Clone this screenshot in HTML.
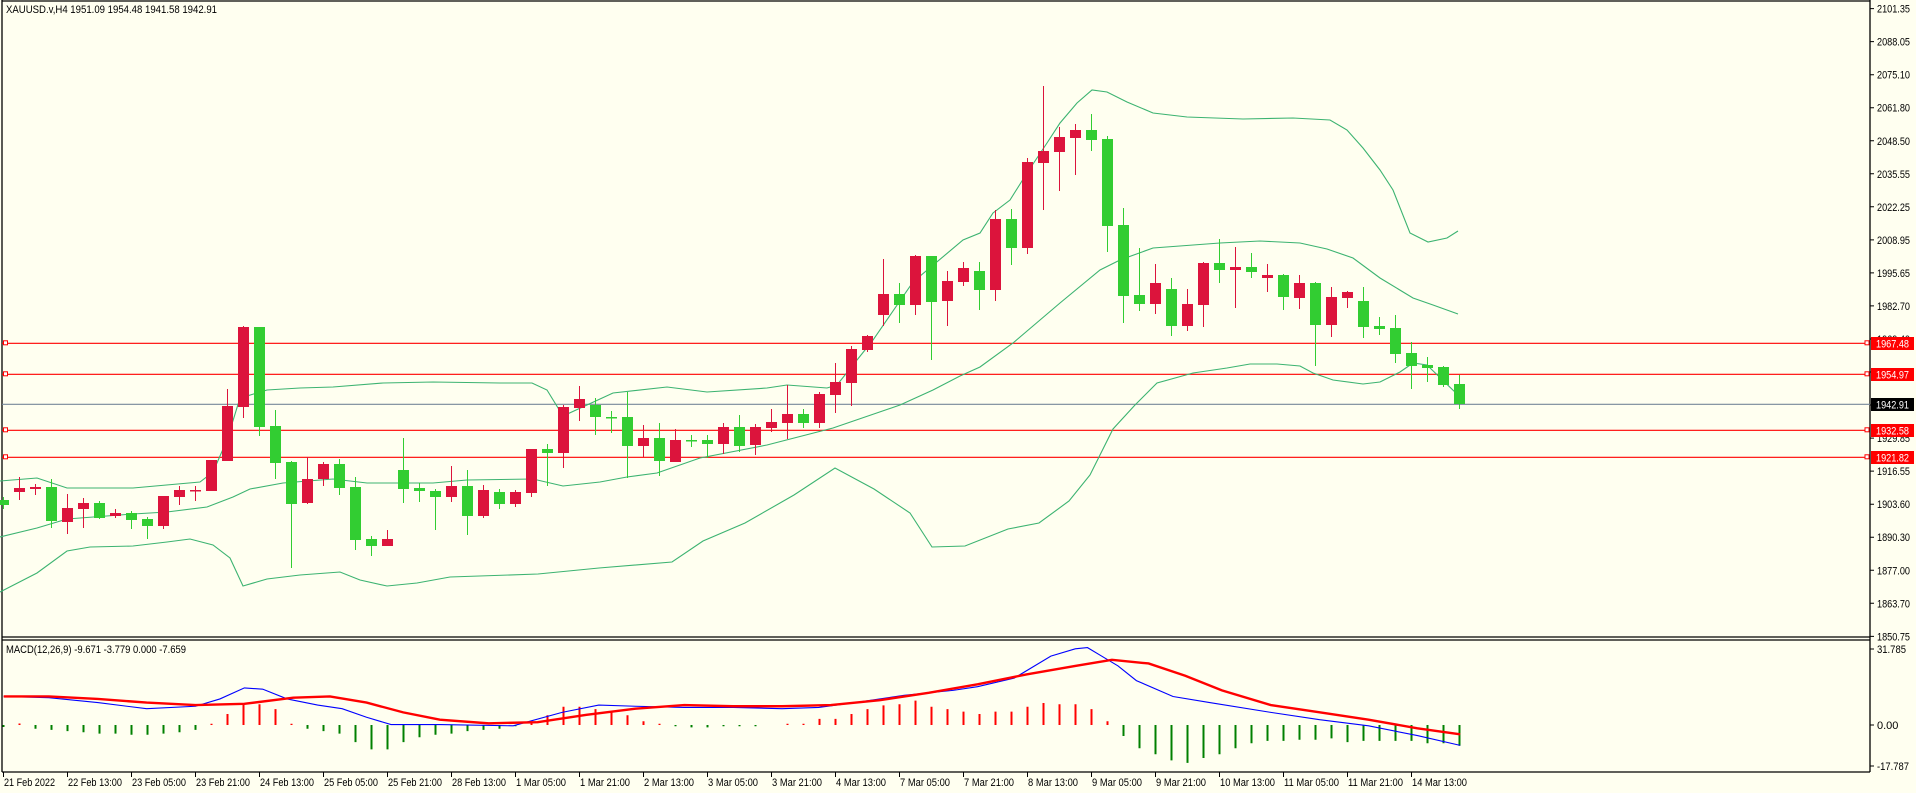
<!DOCTYPE html>
<html><head><meta charset="utf-8"><style>
html,body{margin:0;padding:0;background:#FFFFF0;}
svg{display:block;font-family:"Liberation Sans",sans-serif;font-size:11px;}
</style></head><body>
<svg width="1916" height="793" viewBox="0 0 1916 793" xmlns="http://www.w3.org/2000/svg">
<rect width="1916" height="793" fill="#FFFFF0"/>
<g stroke="#000" stroke-width="1.3" fill="none">
<line x1="2" y1="1" x2="1870" y2="1"/>
<line x1="2" y1="0" x2="2" y2="772"/>
<line x1="1870" y1="0" x2="1870" y2="772"/>
<line x1="2" y1="637" x2="1870" y2="637"/>
<line x1="2" y1="640" x2="1870" y2="640"/>
<line x1="2" y1="772" x2="1870" y2="772"/>
</g>
<g stroke-width="1.2" fill="none">
<line x1="2" y1="404.3" x2="1870" y2="404.3" stroke="#778899"/>
<line x1="2" y1="343.3" x2="1866" y2="343.3" stroke="#FF0000"/>
<line x1="2" y1="374.3" x2="1866" y2="374.3" stroke="#FF0000"/>
<line x1="2" y1="430.3" x2="1866" y2="430.3" stroke="#FF0000"/>
<line x1="2" y1="457.3" x2="1866" y2="457.3" stroke="#FF0000"/>
</g>
<g stroke="#FF0000" fill="#fff" stroke-width="1">
<rect x="3.5" y="340.8" width="4" height="4"/><rect x="3.5" y="371.8" width="4" height="4"/><rect x="3.5" y="427.8" width="4" height="4"/><rect x="3.5" y="454.8" width="4" height="4"/>
<rect x="1865" y="340.8" width="4" height="4"/><rect x="1865" y="371.8" width="4" height="4"/><rect x="1865" y="427.8" width="4" height="4"/><rect x="1865" y="454.8" width="4" height="4"/>
</g>
<g stroke="#3CB371" stroke-width="1.1" fill="none">
<polyline points="0,481 37,478 67,488 133,488 200,482 213,472 227,440 240,398 247,396 267,390 300,388 333,387 383,383 433,382 500,383 532,383 547,390 563,416 613,393 667,387 707,392 767,388 787,385 827,388 837,385 873,340 913,282 963,240 980,233 993,213 1010,200 1027,173 1047,143 1060,123 1077,103 1092,90 1107,92 1127,102 1153,113 1187,117 1243,119 1293,118 1330,120 1347,130 1363,148 1380,170 1393,190 1410,233 1428,242 1447,238 1458,231"/>
<polyline points="0,537 37,528 67,519 133,514 167,512 207,507 233,497 250,489 283,483 333,479 367,483 433,483 467,480 533,479 563,486 600,482 627,477 657,473 700,458 767,445 833,428 900,405 933,390 960,376 980,367 1013,343 1060,303 1100,270 1120,260 1153,248 1220,243 1260,241 1300,243 1327,249 1353,258 1380,278 1413,298 1433,305 1458,314"/>
<polyline points="0,592 37,573 67,551 90,547 133,546 167,542 190,539 213,545 230,558 243,586 267,579 300,575 340,572 360,580 387,586 417,583 450,577 538,574 599,568 672,562 703,541 745,523 794,495 835,468 874,489 910,513 932,547 965,546 1008,529 1039,523 1069,501 1090,475 1113,429 1135,405 1157,383 1193,373 1227,368 1250,364 1277,364 1300,366 1313,373 1333,380 1363,384 1380,382 1400,372 1413,363 1427,365 1458,395"/>
</g>
<g fill="#DC143C">
<rect x="19" y="477" width="1" height="23"/><rect x="14" y="488" width="11" height="4"/>
<rect x="35" y="484" width="1" height="11"/><rect x="30" y="487" width="11" height="2"/>
<rect x="67" y="494" width="1" height="40"/><rect x="62" y="508" width="11" height="14"/>
<rect x="83" y="498" width="1" height="30"/><rect x="78" y="503" width="11" height="6"/>
<rect x="115" y="509" width="1" height="9"/><rect x="110" y="513" width="11" height="3"/>
<rect x="163" y="496" width="1" height="33"/><rect x="158" y="496" width="11" height="30"/>
<rect x="179" y="486" width="1" height="19"/><rect x="174" y="490" width="11" height="7"/>
<rect x="195" y="486" width="1" height="15"/><rect x="190" y="490" width="11" height="1.5"/>
<rect x="211" y="460" width="1" height="31"/><rect x="206" y="460" width="11" height="31"/>
<rect x="227" y="389" width="1" height="72"/><rect x="222" y="406" width="11" height="55"/>
<rect x="243" y="326" width="1" height="92"/><rect x="238" y="327" width="11" height="80"/>
<rect x="307" y="457" width="1" height="47"/><rect x="302" y="479" width="11" height="24"/>
<rect x="323" y="462" width="1" height="24"/><rect x="318" y="464" width="11" height="15"/>
<rect x="387" y="530" width="1" height="16"/><rect x="382" y="539" width="11" height="7"/>
<rect x="451" y="466" width="1" height="36"/><rect x="446" y="486" width="11" height="11"/>
<rect x="483" y="485" width="1" height="33"/><rect x="478" y="490" width="11" height="26"/>
<rect x="515" y="490" width="1" height="17"/><rect x="510" y="492" width="11" height="12"/>
<rect x="531" y="449" width="1" height="48"/><rect x="526" y="449" width="11" height="44"/>
<rect x="563" y="405" width="1" height="63"/><rect x="558" y="407" width="11" height="46"/>
<rect x="579" y="386" width="1" height="35"/><rect x="574" y="399" width="11" height="9"/>
<rect x="643" y="425" width="1" height="32"/><rect x="638" y="438" width="11" height="8"/>
<rect x="675" y="429" width="1" height="33"/><rect x="670" y="440" width="11" height="22"/>
<rect x="723" y="423" width="1" height="31"/><rect x="718" y="427" width="11" height="17"/>
<rect x="755" y="424" width="1" height="31"/><rect x="750" y="427" width="11" height="18"/>
<rect x="771" y="409" width="1" height="23"/><rect x="766" y="422" width="11" height="6"/>
<rect x="787" y="385" width="1" height="54"/><rect x="782" y="414" width="11" height="9"/>
<rect x="819" y="392" width="1" height="36"/><rect x="814" y="394" width="11" height="29"/>
<rect x="835" y="363" width="1" height="50"/><rect x="830" y="382" width="11" height="13"/>
<rect x="851" y="346" width="1" height="60"/><rect x="846" y="349" width="11" height="34"/>
<rect x="867" y="335" width="1" height="17"/><rect x="862" y="336" width="11" height="14"/>
<rect x="883" y="259" width="1" height="67"/><rect x="878" y="294" width="11" height="21"/>
<rect x="915" y="255" width="1" height="60"/><rect x="910" y="256" width="11" height="49"/>
<rect x="947" y="271" width="1" height="55"/><rect x="942" y="281" width="11" height="20"/>
<rect x="963" y="262" width="1" height="24"/><rect x="958" y="268" width="11" height="14"/>
<rect x="995" y="210" width="1" height="91"/><rect x="990" y="219" width="11" height="71"/>
<rect x="1027" y="158" width="1" height="96"/><rect x="1022" y="162" width="11" height="86"/>
<rect x="1043" y="86" width="1" height="124"/><rect x="1038" y="151" width="11" height="12"/>
<rect x="1059" y="127" width="1" height="64"/><rect x="1054" y="137" width="11" height="15"/>
<rect x="1075" y="124" width="1" height="51"/><rect x="1070" y="130" width="11" height="8"/>
<rect x="1155" y="264" width="1" height="50"/><rect x="1150" y="283" width="11" height="21"/>
<rect x="1187" y="289" width="1" height="42"/><rect x="1182" y="304" width="11" height="22"/>
<rect x="1203" y="262" width="1" height="65"/><rect x="1198" y="263" width="11" height="42"/>
<rect x="1235" y="247" width="1" height="61"/><rect x="1230" y="267" width="11" height="3"/>
<rect x="1267" y="264" width="1" height="28"/><rect x="1262" y="275" width="11" height="3"/>
<rect x="1299" y="275" width="1" height="34"/><rect x="1294" y="283" width="11" height="15"/>
<rect x="1331" y="287" width="1" height="50"/><rect x="1326" y="297" width="11" height="28"/>
<rect x="1347" y="291" width="1" height="17"/><rect x="1342" y="292" width="11" height="6"/>
</g>
<g fill="#32CD32">
<rect x="3" y="497" width="1" height="12"/><rect x="0" y="500" width="9" height="5"/>
<rect x="51" y="479" width="1" height="49"/><rect x="46" y="487" width="11" height="34"/>
<rect x="99" y="501" width="1" height="18"/><rect x="94" y="503" width="11" height="15"/>
<rect x="131" y="511" width="1" height="18"/><rect x="126" y="513" width="11" height="7"/>
<rect x="147" y="517" width="1" height="22"/><rect x="142" y="519" width="11" height="7"/>
<rect x="259" y="327" width="1" height="109"/><rect x="254" y="327" width="11" height="100"/>
<rect x="275" y="410" width="1" height="69"/><rect x="270" y="426" width="11" height="37"/>
<rect x="291" y="461" width="1" height="107"/><rect x="286" y="462" width="11" height="42"/>
<rect x="339" y="459" width="1" height="36"/><rect x="334" y="464" width="11" height="24"/>
<rect x="355" y="477" width="1" height="73"/><rect x="350" y="487" width="11" height="53"/>
<rect x="371" y="536" width="1" height="20"/><rect x="366" y="539" width="11" height="7"/>
<rect x="403" y="438" width="1" height="65"/><rect x="398" y="470" width="11" height="19"/>
<rect x="419" y="483" width="1" height="19"/><rect x="414" y="488" width="11" height="3"/>
<rect x="435" y="489" width="1" height="41"/><rect x="430" y="491" width="11" height="6"/>
<rect x="467" y="470" width="1" height="65"/><rect x="462" y="486" width="11" height="30"/>
<rect x="499" y="489" width="1" height="20"/><rect x="494" y="492" width="11" height="12"/>
<rect x="547" y="444" width="1" height="42"/><rect x="542" y="449" width="11" height="4"/>
<rect x="595" y="398" width="1" height="37"/><rect x="590" y="405" width="11" height="12"/>
<rect x="611" y="411" width="1" height="22"/><rect x="606" y="417" width="11" height="1.5"/>
<rect x="627" y="392" width="1" height="86"/><rect x="622" y="417" width="11" height="29"/>
<rect x="659" y="423" width="1" height="53"/><rect x="654" y="438" width="11" height="23"/>
<rect x="691" y="435" width="1" height="12"/><rect x="686" y="440" width="11" height="1.5"/>
<rect x="707" y="435" width="1" height="23"/><rect x="702" y="440" width="11" height="4"/>
<rect x="739" y="415" width="1" height="37"/><rect x="734" y="427" width="11" height="19"/>
<rect x="803" y="409" width="1" height="19"/><rect x="798" y="414" width="11" height="9"/>
<rect x="899" y="283" width="1" height="40"/><rect x="894" y="294" width="11" height="11"/>
<rect x="931" y="256" width="1" height="104"/><rect x="926" y="256" width="11" height="46"/>
<rect x="979" y="262" width="1" height="48"/><rect x="974" y="271" width="11" height="19"/>
<rect x="1011" y="209" width="1" height="56"/><rect x="1006" y="219" width="11" height="29"/>
<rect x="1091" y="114" width="1" height="37"/><rect x="1086" y="130" width="11" height="10"/>
<rect x="1107" y="136" width="1" height="116"/><rect x="1102" y="139" width="11" height="87"/>
<rect x="1123" y="208" width="1" height="115"/><rect x="1118" y="225" width="11" height="71"/>
<rect x="1139" y="248" width="1" height="63"/><rect x="1134" y="295" width="11" height="9"/>
<rect x="1171" y="278" width="1" height="58"/><rect x="1166" y="289" width="11" height="37"/>
<rect x="1219" y="239" width="1" height="44"/><rect x="1214" y="263" width="11" height="7"/>
<rect x="1251" y="253" width="1" height="25"/><rect x="1246" y="267" width="11" height="5"/>
<rect x="1283" y="274" width="1" height="36"/><rect x="1278" y="275" width="11" height="22"/>
<rect x="1315" y="282" width="1" height="84"/><rect x="1310" y="283" width="11" height="42"/>
<rect x="1363" y="287" width="1" height="51"/><rect x="1358" y="301" width="11" height="26"/>
<rect x="1379" y="317" width="1" height="18"/><rect x="1374" y="326" width="11" height="3"/>
<rect x="1395" y="315" width="1" height="48"/><rect x="1390" y="328" width="11" height="26"/>
<rect x="1411" y="342" width="1" height="47"/><rect x="1406" y="353" width="11" height="13"/>
<rect x="1427" y="357" width="1" height="25"/><rect x="1422" y="365" width="11" height="3"/>
<rect x="1443" y="366" width="1" height="21"/><rect x="1438" y="367" width="11" height="18"/>
<rect x="1459" y="375" width="1" height="34"/><rect x="1454" y="384" width="11" height="20"/>
</g>
<path stroke="#008000" stroke-width="2" fill="none" d="M3.5 725V727M35.5 725V728.7M51.5 725V729.9M67.5 725V731.1M83.5 725V732.3M99.5 725V733.6M115.5 725V733.6M131.5 725V734.8M147.5 725V734.8M163.5 725V733.6M179.5 725V732.3M195.5 725V729.9M307.5 725V728.7M323.5 725V731.1M339.5 725V733.6M355.5 725V742.1M371.5 725V749.4M387.5 725V749.4M403.5 725V742.1M419.5 725V737.2M435.5 725V734.8M451.5 725V733.6M467.5 725V731.1M483.5 725V729.9M499.5 725V728.7M515.5 725V726.2M675.5 725V726.2M691.5 725V727.4M707.5 725V727.4M723.5 725V726.2M739.5 725V726.2M755.5 725V726.2M1123.5 725V736M1139.5 725V748.2M1155.5 725V754.3M1171.5 725V760.4M1187.5 725V762.9M1203.5 725V758M1219.5 725V754.3M1235.5 725V748.2M1251.5 725V743.3M1267.5 725V740.9M1283.5 725V740.9M1299.5 725V739.7M1315.5 725V739.7M1331.5 725V738.4M1347.5 725V742.1M1363.5 725V740.9M1379.5 725V740.9M1395.5 725V740.9M1411.5 725V740.9M1427.5 725V743.3M1443.5 725V743.3M1459.5 725V745.8"/>
<path stroke="#FF0000" stroke-width="2" fill="none" d="M19.5 725V723.5M211.5 725V723.8M227.5 725V714M243.5 725V704.2M259.5 725V704.2M275.5 725V709.1M291.5 725V723.8M531.5 725V721.3M547.5 725V715.2M563.5 725V706.7M579.5 725V706.7M595.5 725V709.1M611.5 725V711.6M627.5 725V715.2M643.5 725V721.3M659.5 725V723.8M787.5 725V723.8M803.5 725V723.8M819.5 725V718.9M835.5 725V718.9M851.5 725V714M867.5 725V709.1M883.5 725V705.4M899.5 725V704.2M915.5 725V700.6M931.5 725V706.7M947.5 725V709.1M963.5 725V711.6M979.5 725V714M995.5 725V711.6M1011.5 725V711.6M1027.5 725V706.7M1043.5 725V703M1059.5 725V704.2M1075.5 725V704.2M1091.5 725V709.1M1107.5 725V721.3"/>
<g transform="scale(1.2219)" fill="none">
<polyline stroke="#0000FF" stroke-width="1.1" vector-effect="non-scaling-stroke" points="3,570 40,571 80,575 120,580 160,578 180,572 200,563 215,564 235,572 260,577 280,580 300,587 320,593 360,593 420,594 460,583 490,577 520,578 560,579 600,579 640,580 670,579 700,575 740,569 780,565 800,562 830,555 860,537 880,531 890,530 900,536 915,545 930,557 960,570 990,575 1040,583 1080,589 1120,594 1160,602 1195,610"/>
<polyline stroke="#FF0000" stroke-width="2.4" vector-effect="non-scaling-stroke" points="3,570 40,570 80,572 120,575 160,577 200,576 240,571 270,570 300,575 330,583 360,589 400,592 440,591 480,585 520,580 560,577 600,578 640,578 680,577 720,573 760,567 800,560 840,552 880,545 910,540 940,543 970,553 1000,565 1040,577 1080,583 1120,589 1160,596 1195,601"/>
</g>
<g fill="#000">
<text x="6" y="13" textLength="211" lengthAdjust="spacingAndGlyphs">XAUUSD.v,H4  1951.09 1954.48 1941.58 1942.91</text>
<text x="6" y="653" textLength="180" lengthAdjust="spacingAndGlyphs">MACD(12,26,9) -9.671 -3.779 0.000 -7.659</text>
</g>
<g stroke="#000" stroke-width="1">
<path d="M1870 8.6h4M1870 41.6h4M1870 74.7h4M1870 107.7h4M1870 140.8h4M1870 173.8h4M1870 206.8h4M1870 239.9h4M1870 272.9h4M1870 305.9h4M1870 339h4M1870 372h4M1870 405h4M1870 438.1h4M1870 471.1h4M1870 504.2h4M1870 537.2h4M1870 570.3h4M1870 603.3h4M1870 636.4h4M1870 649h4M1870 725h4M1870 766h4"/>
</g>
<g fill="#000" lengthAdjust="spacingAndGlyphs">
<text x="1877" y="12.6" textLength="33" lengthAdjust="spacingAndGlyphs">2101.35</text><text x="1877" y="45.6" textLength="33" lengthAdjust="spacingAndGlyphs">2088.05</text><text x="1877" y="78.7" textLength="33" lengthAdjust="spacingAndGlyphs">2075.10</text><text x="1877" y="111.7" textLength="33" lengthAdjust="spacingAndGlyphs">2061.80</text><text x="1877" y="144.8" textLength="33" lengthAdjust="spacingAndGlyphs">2048.50</text><text x="1877" y="177.8" textLength="33" lengthAdjust="spacingAndGlyphs">2035.55</text><text x="1877" y="210.8" textLength="33" lengthAdjust="spacingAndGlyphs">2022.25</text><text x="1877" y="243.9" textLength="33" lengthAdjust="spacingAndGlyphs">2008.95</text><text x="1877" y="276.9" textLength="33" lengthAdjust="spacingAndGlyphs">1995.65</text><text x="1877" y="309.9" textLength="33" lengthAdjust="spacingAndGlyphs">1982.70</text><text x="1877" y="343" textLength="33" lengthAdjust="spacingAndGlyphs">1969.40</text><text x="1877" y="376" textLength="33" lengthAdjust="spacingAndGlyphs">1956.10</text><text x="1877" y="409" textLength="33" lengthAdjust="spacingAndGlyphs">1942.80</text><text x="1877" y="442.1" textLength="33" lengthAdjust="spacingAndGlyphs">1929.85</text><text x="1877" y="475.1" textLength="33" lengthAdjust="spacingAndGlyphs">1916.55</text><text x="1877" y="508.2" textLength="33" lengthAdjust="spacingAndGlyphs">1903.60</text><text x="1877" y="541.2" textLength="33" lengthAdjust="spacingAndGlyphs">1890.30</text><text x="1877" y="574.3" textLength="33" lengthAdjust="spacingAndGlyphs">1877.00</text><text x="1877" y="607.3" textLength="33" lengthAdjust="spacingAndGlyphs">1863.70</text><text x="1877" y="640.4" textLength="33" lengthAdjust="spacingAndGlyphs">1850.75</text>
<text x="1877" y="653" textLength="29" lengthAdjust="spacingAndGlyphs">31.785</text><text x="1877" y="729">0.00</text><text x="1877" y="770" textLength="32" lengthAdjust="spacingAndGlyphs">-17.787</text>
</g>
<g>
<rect x="1871" y="337" width="43" height="13" fill="#FF0000"/><text x="1876" y="347.5" fill="#fff" textLength="33" lengthAdjust="spacingAndGlyphs">1967.48</text>
<rect x="1871" y="368" width="43" height="13" fill="#FF0000"/><text x="1876" y="378.5" fill="#fff" textLength="33" lengthAdjust="spacingAndGlyphs">1954.97</text>
<rect x="1871" y="398" width="43" height="13" fill="#000"/><text x="1876" y="408.5" fill="#fff" textLength="33" lengthAdjust="spacingAndGlyphs">1942.91</text>
<rect x="1871" y="424" width="43" height="13" fill="#FF0000"/><text x="1876" y="434.5" fill="#fff" textLength="33" lengthAdjust="spacingAndGlyphs">1932.58</text>
<rect x="1871" y="451" width="43" height="13" fill="#FF0000"/><text x="1876" y="461.5" fill="#fff" textLength="33" lengthAdjust="spacingAndGlyphs">1921.82</text>
</g>
<path stroke="#000" stroke-width="1" d="M3.5 772v5M67.5 772v5M131.5 772v5M195.5 772v5M259.5 772v5M323.5 772v5M387.5 772v5M451.5 772v5M515.5 772v5M579.5 772v5M643.5 772v5M707.5 772v5M771.5 772v5M835.5 772v5M899.5 772v5M963.5 772v5M1027.5 772v5M1091.5 772v5M1155.5 772v5M1219.5 772v5M1283.5 772v5M1347.5 772v5M1411.5 772v5"/>
<g fill="#000">
<text x="4" y="786" textLength="51" lengthAdjust="spacingAndGlyphs">21 Feb 2022</text><text x="68" y="786" textLength="54" lengthAdjust="spacingAndGlyphs">22 Feb 13:00</text><text x="132" y="786" textLength="54" lengthAdjust="spacingAndGlyphs">23 Feb 05:00</text><text x="196" y="786" textLength="54" lengthAdjust="spacingAndGlyphs">23 Feb 21:00</text><text x="260" y="786" textLength="54" lengthAdjust="spacingAndGlyphs">24 Feb 13:00</text><text x="324" y="786" textLength="54" lengthAdjust="spacingAndGlyphs">25 Feb 05:00</text><text x="388" y="786" textLength="54" lengthAdjust="spacingAndGlyphs">25 Feb 21:00</text><text x="452" y="786" textLength="54" lengthAdjust="spacingAndGlyphs">28 Feb 13:00</text><text x="516" y="786" textLength="50" lengthAdjust="spacingAndGlyphs">1 Mar 05:00</text><text x="580" y="786" textLength="50" lengthAdjust="spacingAndGlyphs">1 Mar 21:00</text><text x="644" y="786" textLength="50" lengthAdjust="spacingAndGlyphs">2 Mar 13:00</text><text x="708" y="786" textLength="50" lengthAdjust="spacingAndGlyphs">3 Mar 05:00</text><text x="772" y="786" textLength="50" lengthAdjust="spacingAndGlyphs">3 Mar 21:00</text><text x="836" y="786" textLength="50" lengthAdjust="spacingAndGlyphs">4 Mar 13:00</text><text x="900" y="786" textLength="50" lengthAdjust="spacingAndGlyphs">7 Mar 05:00</text><text x="964" y="786" textLength="50" lengthAdjust="spacingAndGlyphs">7 Mar 21:00</text><text x="1028" y="786" textLength="50" lengthAdjust="spacingAndGlyphs">8 Mar 13:00</text><text x="1092" y="786" textLength="50" lengthAdjust="spacingAndGlyphs">9 Mar 05:00</text><text x="1156" y="786" textLength="50" lengthAdjust="spacingAndGlyphs">9 Mar 21:00</text><text x="1220" y="786" textLength="55" lengthAdjust="spacingAndGlyphs">10 Mar 13:00</text><text x="1284" y="786" textLength="55" lengthAdjust="spacingAndGlyphs">11 Mar 05:00</text><text x="1348" y="786" textLength="55" lengthAdjust="spacingAndGlyphs">11 Mar 21:00</text><text x="1412" y="786" textLength="55" lengthAdjust="spacingAndGlyphs">14 Mar 13:00</text>
</g>
</svg>
</body></html>
